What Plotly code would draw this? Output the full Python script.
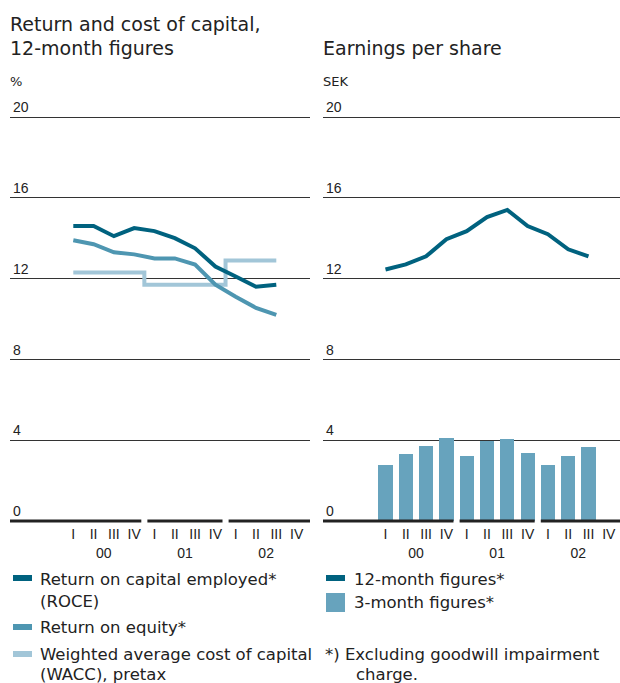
import plotly.graph_objects as go

# ---------------- data ----------------
quarters = ["I", "II", "III", "IV", "I", "II", "III", "IV", "I", "II", "III", "IV"]
years = ["00", "01", "02"]
year_centers = [1.5, 5.5, 9.5]
year_breaks = [3.5, 7.5]

roce = [14.6, 14.6, 14.1, 14.5, 14.35, 14.0, 13.5, 12.6, 12.1, 11.6, 11.7]
roe = [13.9, 13.7, 13.3, 13.2, 13.0, 13.0, 12.7, 11.7, 11.1, 10.55, 10.2]
wacc = [12.3, 12.3, 12.3, 12.3, 11.7, 11.7, 11.7, 11.7, 12.9, 12.9, 12.9]
eps_12m = [12.45, 12.7, 13.1, 13.95, 14.35, 15.05, 15.4, 14.6, 14.2, 13.45, 13.1]
eps_3m = [2.77, 3.32, 3.72, 4.12, 3.22, 3.98, 4.07, 3.37, 2.77, 3.22, 3.67]

y_ticks = [0, 4, 8, 12, 16, 20]
grid_vals = [4, 8, 12, 16, 20]

# ---------------- style ----------------
W, H = 620, 683
FONT = "Liberation Sans, Arial, sans-serif"
TFONT = "DejaVu Sans, sans-serif"
TXT = "#222222"
C_ROCE = "#00627f"
C_ROE = "#4e96b1"
C_WACC = "#a2c6d8"
C_BAR = "#67a3bd"
C_BASE = "#222222"
C_GRID = "#333333"

def px(x):
    return x / W

def py(y):
    return 1 - y / H

# pixel geometry
Y0_PX, UNIT_PX = 521, 20.2
Y_BOT_PX, Y_TOP_PX = 524, 85
y_range = [(Y0_PX - Y_BOT_PX) / UNIT_PX, (Y0_PX - Y_TOP_PX) / UNIT_PX]
Q_PX = 20.3
left_dom = (10, 310)
left_q0 = 73.3
right_dom = (323, 620)
right_q0 = 385.5
left_range = [(left_dom[0] - left_q0) / Q_PX, (left_dom[1] - left_q0) / Q_PX]
right_range = [(right_dom[0] - right_q0) / Q_PX, (right_dom[1] - right_q0) / Q_PX]

def baseline_x(rng, gap=0.15):
    xs = [rng[0]]
    for b in year_breaks:
        xs += [b - gap, None, b + gap]
    xs.append(rng[1])
    return xs

xq = list(range(len(roce)))

fig = go.Figure()

# baselines
for xa, ya, rng in (("x", "y", left_range), ("x2", "y2", right_range)):
    bx = baseline_x(rng)
    fig.add_trace(go.Scatter(
        x=bx, y=[0 if v is not None else None for v in bx],
        mode="lines", line=dict(color=C_BASE, width=3),
        xaxis=xa, yaxis=ya, hoverinfo="skip", showlegend=False, connectgaps=False))

# invisible anchors so the year axes are drawn
for xa, ya in (("x3", "y"), ("x4", "y2")):
    fig.add_trace(go.Scatter(x=year_centers, y=[0] * len(year_centers), mode="markers",
                             marker=dict(opacity=0, size=1), xaxis=xa, yaxis=ya,
                             hoverinfo="skip", showlegend=False))

# left panel
fig.add_trace(go.Scatter(x=xq, y=wacc, mode="lines", line=dict(color=C_WACC, width=4, shape="hvh"),
                         name="WACC", xaxis="x", yaxis="y", showlegend=False))
fig.add_trace(go.Scatter(x=xq, y=roe, mode="lines", line=dict(color=C_ROE, width=4),
                         name="ROE", xaxis="x", yaxis="y", showlegend=False))
fig.add_trace(go.Scatter(x=xq, y=roce, mode="lines", line=dict(color=C_ROCE, width=4),
                         name="ROCE", xaxis="x", yaxis="y", showlegend=False))

# right panel
fig.add_trace(go.Bar(x=xq, y=eps_3m, width=0.7, marker=dict(color=C_BAR, line=dict(width=0)),
                     name="3-month", xaxis="x2", yaxis="y2", showlegend=False))
fig.add_trace(go.Scatter(x=xq, y=eps_12m, mode="lines", line=dict(color=C_ROCE, width=4),
                         name="12-month", xaxis="x2", yaxis="y2", showlegend=False))

tickfont = dict(family=FONT, size=14, color=TXT)

def xaxis_q(dom, rng, anchor):
    return dict(domain=[px(dom[0]), px(dom[1])], range=rng, anchor=anchor,
                tickmode="array", tickvals=list(range(len(quarters))), ticktext=quarters,
                showgrid=False, zeroline=False, showline=False, ticks="",
                tickfont=tickfont, ticklabelstandoff=0, fixedrange=True)

def xaxis_y(over, rng, anchor):
    return dict(overlaying=over, range=rng, anchor=anchor, side="bottom",
                tickmode="array", tickvals=year_centers, ticktext=years,
                showgrid=False, zeroline=False, showline=False, ticks="",
                tickfont=tickfont, ticklabelstandoff=19, fixedrange=True)

def yaxis_d(anchor):
    return dict(domain=[py(Y_BOT_PX), py(Y_TOP_PX)], range=y_range, anchor=anchor,
                tickmode="array", tickvals=y_ticks, ticklabelposition="inside top",
                showgrid=False, zeroline=False, showline=False, ticks="",
                tickfont=tickfont, fixedrange=True,
                minor=dict(tickmode="array", tickvals=grid_vals, showgrid=True,
                           gridcolor=C_GRID, gridwidth=1, ticks=""))

fig.update_layout(
    width=W, height=H, margin=dict(l=0, r=0, t=0, b=0),
    paper_bgcolor="white", plot_bgcolor="white",
    font=dict(family=FONT, color=TXT),
    bargap=0, showlegend=False,
    xaxis=xaxis_q(left_dom, left_range, "y"),
    xaxis2=xaxis_q(right_dom, right_range, "y2"),
    xaxis3=xaxis_y("x", left_range, "y"),
    xaxis4=xaxis_y("x2", right_range, "y2"),
    yaxis=yaxis_d("x"),
    yaxis2=yaxis_d("x2"),
)

ann = []
def text(x, y, s, size=16.5):
    ann.append(dict(x=px(x), y=py(y), xref="paper", yref="paper", text=s, showarrow=False,
                    xanchor="left", yanchor="middle", font=dict(family=TFONT, size=size, color=TXT),
                    borderpad=0))

text(9, 24, "Return and cost of capital,", 19)
text(9, 47.5, "12-month figures", 19)
text(322, 47.5, "Earnings per share", 19)
text(9, 81.5, "%", 13)
text(322, 81.5, "SEK", 13)

text(39, 579, "Return on capital employed*")
text(39, 601, "(ROCE)")
text(39, 627, "Return on equity*")
text(39, 654, "Weighted average cost of capital")
text(39, 674, "(WACC), pretax")
text(353, 579, "12-month figures*")
text(353, 602, "3-month figures*")
text(324, 654, "*) Excluding goodwill impairment")
text(355, 674, "charge.")

shapes = []
def rect(x0, y0, x1, y1, color):
    shapes.append(dict(type="rect", xref="paper", yref="paper", x0=px(x0), x1=px(x1),
                       y0=py(y1), y1=py(y0), fillcolor=color, line=dict(width=0)))

rect(13, 575, 32, 581, C_ROCE)
rect(13, 624, 32, 630, C_ROE)
rect(13, 651, 32, 657, C_WACC)
rect(326, 575, 345, 581, C_ROCE)
rect(326, 593, 345, 612, C_BAR)

fig.update_layout(annotations=ann, shapes=shapes)

fig.write_html("out.html", config={"displayModeBar": False},
               post_script="document.body.style.margin='0px';")
